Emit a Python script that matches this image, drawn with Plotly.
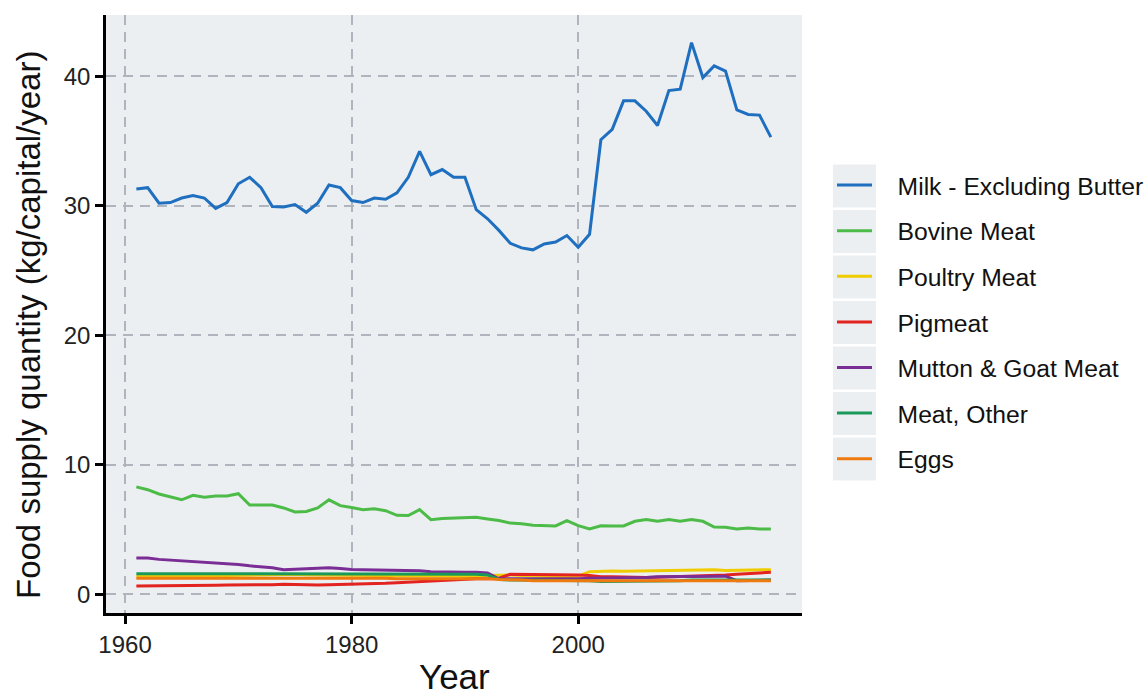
import plotly.graph_objects as go

years = list(range(1961, 2018))

milk = [31.3, 31.4, 30.2, 30.25, 30.6, 30.8, 30.6, 29.8, 30.25, 31.7,
        32.2, 31.4, 29.95, 29.9, 30.1, 29.5, 30.2, 31.6, 31.4, 30.4,
        30.25, 30.6, 30.5, 31.0, 32.2, 34.2, 32.4, 32.8, 32.2, 32.2,
        29.7, 29.0, 28.1, 27.1, 26.75, 26.6, 27.05, 27.2, 27.7, 26.8,
        27.8, 35.1, 35.9, 38.1, 38.1, 37.3, 36.2, 38.9, 39.0, 42.6,
        39.9, 40.8, 40.4, 37.4, 37.05, 37.0, 35.3]

bovine = [8.3, 8.08, 7.75, 7.5, 7.3, 7.65, 7.5, 7.6, 7.6, 7.77,
          6.9, 6.9, 6.9, 6.67, 6.36, 6.4, 6.67, 7.3, 6.85, 6.7,
          6.54, 6.6, 6.46, 6.1, 6.08, 6.54, 5.77, 5.85, 5.9, 5.9,
          5.95, 5.82, 5.7, 5.5, 5.45, 5.33, 5.28, 5.28, 5.69, 5.3,
          5.05, 5.3, 5.28, 5.28, 5.64, 5.77, 5.64, 5.77, 5.64, 5.77,
          5.64, 5.2, 5.18, 5.05, 5.13, 5.05, 5.05]

poultry = [1.4, 1.4, 1.4, 1.42, 1.42, 1.44, 1.45, 1.45, 1.46, 1.48,
           1.5, 1.5, 1.52, 1.55, 1.55, 1.52, 1.5, 1.5, 1.48, 1.47,
           1.46, 1.45, 1.45, 1.44, 1.42, 1.42, 1.4, 1.4, 1.4, 1.4,
           1.4, 1.45, 1.5, 1.5, 1.45, 1.4, 1.38, 1.35, 1.35, 1.4,
           1.75, 1.8, 1.8, 1.78, 1.8, 1.8, 1.82, 1.85, 1.85, 1.88,
           1.9, 1.9, 1.85, 1.85, 1.88, 1.9, 1.9]

pigmeat = [0.65, 0.65, 0.66, 0.67, 0.68, 0.68, 0.7, 0.7, 0.72, 0.72,
           0.74, 0.75, 0.75, 0.78, 0.76, 0.72, 0.72, 0.75, 0.76, 0.78,
           0.8, 0.82, 0.85, 0.9, 0.95, 1.0, 1.05, 1.1, 1.15, 1.2,
           1.2, 1.2, 1.25, 1.55, 1.55, 1.55, 1.55, 1.5, 1.5, 1.5,
           1.45, 1.35, 1.35, 1.32, 1.32, 1.3, 1.32, 1.35, 1.35, 1.38,
           1.4, 1.45, 1.5, 1.55, 1.6, 1.65, 1.7]

mutton = [2.8, 2.8, 2.7, 2.65, 2.6, 2.55, 2.5, 2.45, 2.4, 2.3,
          2.2, 2.15, 2.05, 1.9, 1.95, 1.98, 2.0, 2.05, 2.0, 1.92,
          1.9, 1.88, 1.85, 1.85, 1.85, 1.82, 1.75, 1.72, 1.7, 1.7,
          1.7, 1.65, 1.2, 1.2, 1.2, 1.15, 1.15, 1.15, 1.2, 1.2,
          1.25, 1.25, 1.3, 1.3, 1.3, 1.3, 1.35, 1.35, 1.35, 1.35,
          1.4, 1.4, 1.4, 1.05, 1.05, 1.1, 1.1]

meat_other = [1.6, 1.6, 1.6, 1.6, 1.6, 1.6, 1.6, 1.6, 1.6, 1.6,
              1.6, 1.6, 1.6, 1.6, 1.6, 1.58, 1.58, 1.58, 1.56, 1.56,
              1.55, 1.55, 1.55, 1.55, 1.55, 1.55, 1.55, 1.55, 1.55, 1.55,
              1.55, 1.5, 1.15, 1.1, 1.1, 1.1, 1.1, 1.1, 1.1, 1.1,
              1.05, 1.0, 1.0, 1.0, 1.05, 1.0, 1.0, 1.05, 1.05, 1.1,
              1.1, 1.1, 1.15, 1.1, 1.1, 1.1, 1.1]

eggs = [1.25, 1.25, 1.25, 1.25, 1.25, 1.26, 1.26, 1.27, 1.28, 1.28,
        1.3, 1.3, 1.3, 1.3, 1.3, 1.3, 1.3, 1.3, 1.3, 1.28,
        1.28, 1.27, 1.25, 1.2, 1.2, 1.22, 1.25, 1.25, 1.25, 1.25,
        1.22, 1.2, 1.15, 1.15, 1.1, 1.05, 1.05, 1.05, 1.05, 1.05,
        1.05, 1.0, 1.0, 1.0, 1.0, 1.0, 1.0, 1.0, 1.02, 1.05,
        1.05, 1.05, 1.05, 1.05, 1.05, 1.05, 1.05]

series_names = ["Milk - Excluding Butter", "Bovine Meat", "Poultry Meat", "Pigmeat",
                "Mutton & Goat Meat", "Meat, Other", "Eggs"]
series_values = [milk, bovine, poultry, pigmeat, mutton, meat_other, eggs]
colors = ["#1f6fc0", "#4cbb47", "#efcc00", "#e2231f", "#7b2d96", "#1a9a5a", "#ef7a10"]

x_ticks = [1960, 1980, 2000]
y_ticks = [0, 10, 20, 30, 40]

FONT = "Liberation Sans, Arial, sans-serif"

L, R, T, B = 106, 345, 15, 87
PW, PH = 1147 - L - R, 700 - T - B
PAD = "\u00a0\u00a0\u00a0"

fig = go.Figure()
for i, (name, vals, col) in enumerate(zip(series_names, series_values, colors)):
    fig.add_trace(go.Scatter(x=years, y=vals, mode="lines", name=PAD + name,
                             legendgroup=name,
                             line=dict(color=col, width=3)))

# legend key backgrounds (ggplot style)
for i in range(len(series_names)):
    yc = 186 + i * 45.5
    fig.add_shape(type="rect", xref="paper", yref="paper",
                  x0=(833 - L) / PW, x1=(876 - L) / PW,
                  y0=(700 - B - (yc + 21.5)) / PH, y1=(700 - B - (yc - 21.5)) / PH,
                  fillcolor="#eceff1", line=dict(width=0), layer="below")

# axis titles
fig.add_annotation(text="Food supply quantity (kg/capital/year)",
                   xref="paper", yref="paper",
                   x=(28 - L) / PW, y=(700 - B - 325) / PH,
                   xanchor="center", yanchor="middle", textangle=-90,
                   showarrow=False, font=dict(size=33, color="#111111", family=FONT))
fig.add_annotation(text="Year", xref="paper", yref="paper",
                   x=0.5, y=(700 - B - 676) / PH,
                   xanchor="center", yanchor="middle", borderpad=0,
                   showarrow=False, font=dict(size=35, color="#111111", family=FONT))

grid = dict(showgrid=True, gridcolor="#b0b5bd", griddash="10px,7px", gridwidth=1.6)

fig.update_layout(
    width=1147, height=700,
    margin=dict(l=L, r=R, t=T, b=B, autoexpand=False),
    paper_bgcolor="white",
    plot_bgcolor="#eceff1",
    font=dict(family=FONT, color="#222222"),
    showlegend=True,
    legend=dict(x=(832 - L) / PW, y=(700 - B - 162.5) / PH, xanchor="left", yanchor="top",
                font=dict(size=24.7, color="#111111", family=FONT),
                bgcolor="rgba(0,0,0,0)", tracegroupgap=10.5,
                itemwidth=35),
    xaxis=dict(range=[1958.32, 2019.75], tickvals=x_ticks,
               ticktext=[str(v) for v in x_ticks],
               showline=True, linecolor="black", linewidth=2.5,
               ticks="outside", ticklen=8, tickwidth=2.5, tickcolor="black",
               tickfont=dict(size=24, color="#222222"),
               zeroline=False, automargin=False, **grid),
    yaxis=dict(range=[-1.44, 44.73], tickvals=y_ticks,
               ticktext=[str(v) for v in y_ticks],
               showline=True, linecolor="black", linewidth=2.5,
               ticks="outside", ticklen=8, tickwidth=2.5, tickcolor="black",
               tickfont=dict(size=24, color="#222222"),
               zeroline=False, automargin=False, **grid),
)

fig.write_html("out.html", config={"displayModeBar": False},
               post_script="document.body.style.margin='0px';")
